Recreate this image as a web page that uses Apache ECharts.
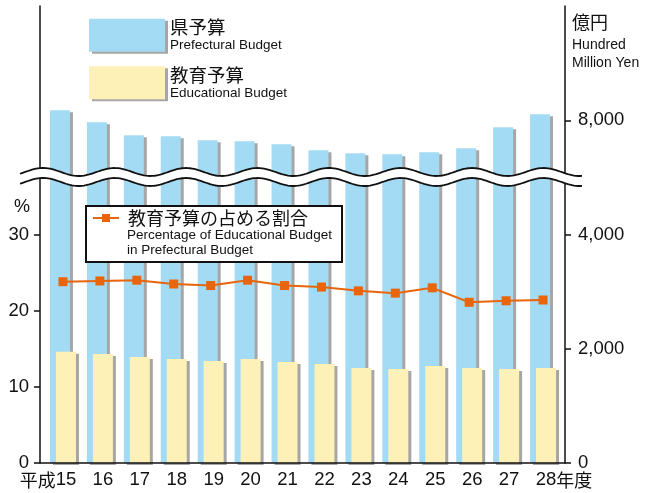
<!DOCTYPE html>
<html>
<head>
<meta charset="utf-8">
<script src="https://cdn.jsdelivr.net/npm/echarts@6.0.0/dist/echarts.min.js"></script>
<style>
  html, body { margin: 0; padding: 0; background: #fff; }
  #chart { width: 652px; height: 493px; }
</style>
</head>
<body>
<div id="chart"></div>
<script>
// 平成15〜28年度
var years = ['15', '16', '17', '18', '19', '20', '21', '22', '23', '24', '25', '26', '27', '28'];
// 県予算（億円）
var prefBudget = [8175, 7965, 7738, 7720, 7650, 7633, 7580, 7475, 7423, 7405, 7440, 7510, 7878, 8105];
// 教育予算（億円）
var eduBudget = [1947, 1907, 1854, 1819, 1784, 1819, 1767, 1732, 1662, 1644, 1697, 1662, 1644, 1662];
// 教育予算の占める割合（%）
var eduRatio = [23.8, 23.9, 24.0, 23.5, 23.3, 24.0, 23.3, 23.1, 22.6, 22.3, 23.0, 21.1, 21.3, 21.4];
var yenTicks = [0, 2000, 4000, 8000];
var pctTicks = [0, 10, 20, 30];

var latin = '"Liberation Sans", "Noto Sans CJK JP", sans-serif';
var jp = '"Noto Sans CJK JP", sans-serif';
var shadow = { shadowColor: '#a6a6a6', shadowOffsetX: 3, shadowOffsetY: 2, shadowBlur: 0 };

// 波線（省略記号）
function wave(offset) {
    var pts = [];
    for (var x = 20; x <= 582; x += 2) {
        pts.push([x, 172 + offset - 4 * Math.cos(2 * Math.PI * (x - 43) / 71.5)]);
    }
    return pts;
}
var waveTop = wave(0);
var waveBottom = wave(10);
var waveFill = waveTop.concat(waveBottom.slice().reverse());

var myChart = echarts.init(document.getElementById('chart'));
var option = {
    animation: false,
    grid: { left: 44.5, right: 90.5, top: 6, bottom: 30 },
    legend: [
        {
            orient: 'vertical',
            left: 89,
            top: 18,
            padding: 0,
            icon: 'rect',
            itemWidth: 76,
            itemHeight: 33,
            itemGap: 13,
            selectedMode: false,
            data: ['県予算', '教育予算'],
            itemStyle: shadow,
            formatter: function (name) {
                var en = name === '県予算' ? 'Prefectural Budget' : 'Educational Budget';
                return '{a|' + name + '}\n{b|' + en + '}';
            },
            textStyle: {
                rich: {
                    a: { fontSize: 18.5, lineHeight: 21, fontFamily: jp, color: '#111' },
                    b: { fontSize: 13.5, lineHeight: 16, fontFamily: latin, color: '#111' }
                }
            }
        },
        {
            left: 92,
            top: 209,
            padding: 0,
            z: 10,
            itemWidth: 26,
            itemHeight: 10,
            selectedMode: false,
            data: ['教育予算の占める割合'],
            textStyle: { fontSize: 18, fontFamily: jp, color: '#111', padding: [0, 0, 0, 4] }
        }
    ],
    xAxis: {
        type: 'category',
        data: years,
        axisLine: { show: false },
        axisTick: { show: false },
        axisLabel: {
            interval: 0,
            margin: 8,
            padding: [0, 0, 0, 6],
            fontSize: 18.5,
            fontFamily: latin,
            color: '#111',
            formatter: function (v, i) {
                if (i === 0) return '{p|平成}' + v + '{h|平成}';
                if (i === years.length - 1) return '{h|年度}' + v + '{p|年度}';
                return v;
            },
            rich: {
                p: { fontSize: 18, fontFamily: jp, color: '#111' },
                h: { fontSize: 18, fontFamily: jp, color: 'rgba(0,0,0,0)' }
            }
        }
    },
    yAxis: [
        {
            type: 'value',
            position: 'left',
            offset: 4.5,
            min: 0,
            max: 60,
            interval: 10,
            splitLine: { show: false },
            axisLine: { show: true, lineStyle: { color: '#111', width: 1.5 } },
            axisTick: { show: true, length: 6, customValues: pctTicks, lineStyle: { color: '#111', width: 1.5 } },
            axisLabel: { customValues: pctTicks, margin: 11, fontSize: 18.5, fontFamily: latin, color: '#111' }
        },
        {
            type: 'value',
            position: 'right',
            offset: 3.5,
            min: 0,
            max: 10000,
            interval: 2000,
            breaks: [{ start: 5000, end: 7000, gap: 0 }],
            breakArea: { show: false },
            splitLine: { show: false },
            axisLine: { show: true, lineStyle: { color: '#111', width: 1.5 } },
            axisTick: { show: true, length: 6, customValues: yenTicks, lineStyle: { color: '#111', width: 1.5 } },
            axisLabel: {
                customValues: yenTicks,
                margin: 13,
                fontSize: 18.5,
                fontFamily: latin,
                color: '#111',
                formatter: function (v) { return v.toLocaleString('en-US'); }
            }
        }
    ],
    graphic: [
        { type: 'line', z: 5, shape: { x1: 40, y1: 463, x2: 565, y2: 463 }, style: { stroke: '#111', lineWidth: 1.5 } },
        { type: 'rect', z: 3, shape: { x: 86, y: 206, width: 256, height: 56 }, style: { fill: '#fff', stroke: '#111', lineWidth: 2 } },
        { type: 'text', z: 10, x: 127, y: 229, style: { text: 'Percentage of Educational Budget', font: '13.5px ' + latin, fill: '#111' } },
        { type: 'text', z: 10, x: 127, y: 244, style: { text: 'in Prefectural Budget', font: '13.5px ' + latin, fill: '#111' } },
        { type: 'text', z: 10, x: 14, y: 198, style: { text: '%', font: '18px ' + latin, fill: '#111' } },
        { type: 'text', z: 10, x: 572, y: 13, style: { text: '億円', font: '18px ' + jp, fill: '#111' } },
        { type: 'text', z: 10, x: 572, y: 38, style: { text: 'Hundred', font: '14px ' + latin, fill: '#111' } },
        { type: 'text', z: 10, x: 572, y: 56, style: { text: 'Million Yen', font: '14px ' + latin, fill: '#111' } },
        { type: 'polygon', z: 20, shape: { points: waveFill }, style: { fill: '#fff', stroke: null } },
        { type: 'polyline', z: 21, shape: { points: waveTop }, style: { fill: null, stroke: '#111', lineWidth: 1.8 } },
        { type: 'polyline', z: 21, shape: { points: waveBottom }, style: { fill: null, stroke: '#111', lineWidth: 1.8 } }
    ],
    series: [
        {
            name: '県予算',
            type: 'bar',
            yAxisIndex: 1,
            barWidth: 20,
            barGap: '-70%',
            data: prefBudget,
            itemStyle: Object.assign({ color: '#a4dbf4' }, shadow)
        },
        {
            name: '教育予算',
            type: 'bar',
            yAxisIndex: 1,
            barWidth: 20,
            data: eduBudget,
            itemStyle: Object.assign({ color: '#fdf1b7' }, shadow)
        },
        {
            name: '教育予算の占める割合',
            type: 'line',
            yAxisIndex: 0,
            data: eduRatio,
            symbol: 'rect',
            symbolSize: 9,
            z: 4,
            lineStyle: { color: '#e8650c', width: 2 },
            itemStyle: { color: '#e8650c' }
        }
    ]
};
myChart.setOption(option);
</script>
</body>
</html>
